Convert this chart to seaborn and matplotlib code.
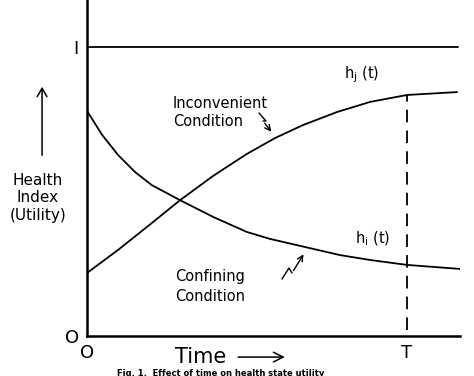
import numpy as np
import pandas as pd
import seaborn as sns
from matplotlib import pyplot as plt

# time axis: O = 0, T = 1
t_confining = [0.000, 0.047, 0.097, 0.150, 0.202, 0.290, 0.393, 0.498, 0.570, 0.679, 0.788, 0.882, 0.997, 1.162]
h_confining = [0.779, 0.696, 0.626, 0.567, 0.522, 0.470, 0.412, 0.360, 0.336, 0.308, 0.280, 0.263, 0.246, 0.232]

t_inconvenient = [0.000, 0.097, 0.202, 0.290, 0.393, 0.498, 0.586, 0.673, 0.779, 0.882, 0.997, 1.153]
h_inconvenient = [0.218, 0.298, 0.391, 0.470, 0.554, 0.630, 0.685, 0.730, 0.775, 0.810, 0.834, 0.844]

full_health = 1.0
T_time = 0.997
y_ticks = [0, 1]
y_ticklabels = ['O', 'I']
x_ticks = [0, 0.997]
x_ticklabels = ['O', 'T']

if __name__ == '__main__':
    sns.set_style('white')
    plt.rcParams['font.family'] = ['DejaVu Sans']
    plt.rcParams['text.color'] = 'black'

    fig = plt.figure(figsize=(4.74, 3.76), dpi=100)
    ax = fig.add_axes([87 / 474, 40 / 376, 373 / 474, 336 / 376])

    df_c = pd.DataFrame({'t': t_confining, 'h': h_confining})
    df_i = pd.DataFrame({'t': t_inconvenient, 'h': h_inconvenient})
    sns.lineplot(x='t', y='h', data=df_c, color='black', lw=1.3, sort=False, ax=ax)
    sns.lineplot(x='t', y='h', data=df_i, color='black', lw=1.3, sort=False, ax=ax)

    ax.axhline(full_health, xmin=0, xmax=0.995, color='black', lw=1.3)
    ax.vlines(T_time, 0.02, h_inconvenient[-2], colors='black', lw=1.3,
              linestyles=(0, (7, 4.5)))

    ax.set_xlim(0, 1.162)
    ax.set_ylim(0, 336 / 289)
    for s in ['top', 'right']:
        ax.spines[s].set_visible(False)
    for s in ['left', 'bottom']:
        ax.spines[s].set_linewidth(1.8)
        ax.spines[s].set_color('black')

    ax.set_yticks(y_ticks)
    ax.set_yticklabels(y_ticklabels)
    ax.set_xticks(x_ticks)
    ax.set_xticklabels(x_ticklabels)
    ax.tick_params(length=0, labelsize=13, colors='black')
    ax.tick_params(axis='y', pad=6)
    ax.tick_params(axis='x', pad=6)
    ax.set_xlabel('')
    ax.set_ylabel('')

    # x axis label with arrow
    ax.text(0.274, -0.073, 'Time', fontsize=15, ha='left', va='center', clip_on=False)
    ax.annotate('', xy=(0.625, -0.073), xytext=(0.462, -0.073),
                arrowprops=dict(arrowstyle='->,head_length=0.7,head_width=0.35', color='black', lw=1.1),
                annotation_clip=False)

    # y axis label with arrow
    ax.text(-0.153, 0.478, 'Health\nIndex\n(Utility)', fontsize=11, ha='center', va='center',
            linespacing=1.2, clip_on=False)
    ax.annotate('', xy=(-0.140, 0.872), xytext=(-0.140, 0.616),
                arrowprops=dict(arrowstyle='->,head_length=0.6,head_width=0.35', color='black', lw=1.1),
                annotation_clip=False)

    # curve labels
    ax.text(0.268, 0.774, 'Inconvenient\nCondition', fontsize=10.5, ha='left', va='center',
            linespacing=1.2)
    ax.text(0.383, 0.171, 'Confining\nCondition', fontsize=10.5, ha='center', va='center',
            linespacing=1.4)
    ax.text(0.800, 0.905, r'h$_\mathregular{j}$ (t)', fontsize=10.5, ha='left', va='center')
    ax.text(0.835, 0.335, r'h$_\mathregular{i}$ (t)', fontsize=10.5, ha='left', va='center')

    # zigzag pointers
    def px(x, y):
        return ((x - 87) / 321, (336 - y) / 289)

    zz1 = [px(259, 113), px(266, 121), px(263, 121)]
    ax.plot([p[0] for p in zz1], [p[1] for p in zz1], color='black', lw=1.0)
    ax.annotate('', xy=px(273, 134), xytext=zz1[-1],
                arrowprops=dict(arrowstyle='->,head_length=0.4,head_width=0.2', color='black', lw=1.0))
    zz2 = [px(282, 279), px(289, 268), px(292, 273)]
    ax.plot([p[0] for p in zz2], [p[1] for p in zz2], color='black', lw=1.0)
    ax.annotate('', xy=px(305, 252), xytext=zz2[-1],
                arrowprops=dict(arrowstyle='->,head_length=0.4,head_width=0.2', color='black', lw=1.0))

    fig.text(117 / 474, 3 / 376, 'Fig. 1.  Effect of time on health state utility',
             fontsize=6, fontweight='bold', ha='left', va='center')

    plt.savefig('out.png', dpi=100)
